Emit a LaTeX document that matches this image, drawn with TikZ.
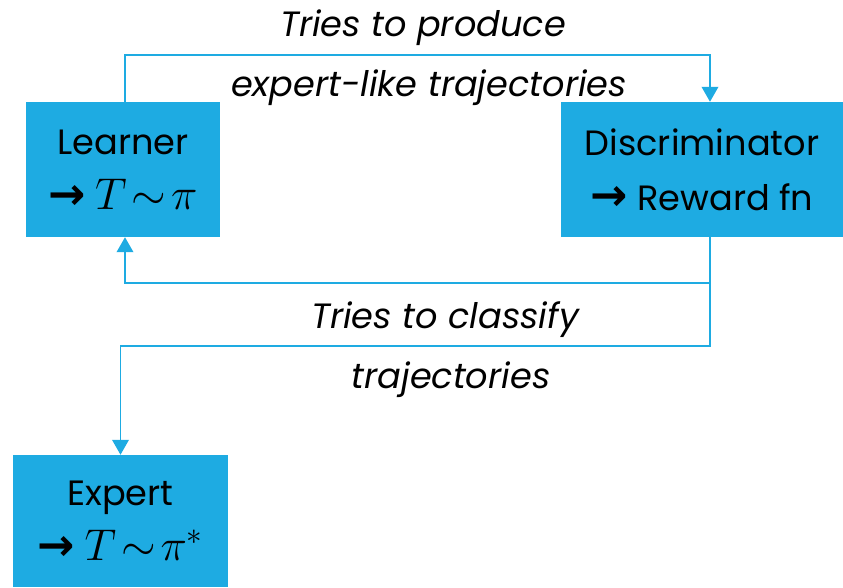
\RequirePackage{fix-cm}
\documentclass[tikz,border=0pt]{standalone}
\usepackage{fontspec}
\setmainfont{Poppins}
\newfontfamily\arrowfont{DejaVu Sans Bold}
\usepackage{xcolor}
\usetikzlibrary{arrows.meta, positioning, calc}

\definecolor{boxblue}{RGB}{30,171,226}
\newcommand{\tofn}{{\arrowfont\fontsize{38}{40}\selectfont\char"2192}}
\newcommand{\bigmath}[1]{{\fontsize{38}{40}\selectfont$#1$}}

\begin{document}
\begin{tikzpicture}[
    x=0.03cm, y=-0.03cm,
    every node/.style={color=black, font=\fontsize{30}{47}\selectfont},
    box/.style={rectangle, fill=boxblue, align=center, inner sep=2pt},
    lbl/.style={font=\fontsize{30}{36}\selectfont\itshape},
    arrow/.style={-{Triangle[length=0.45cm, width=0.5cm]}, draw=boxblue, line width=1.4pt},
    >={Triangle[length=0.45cm, width=0.5cm]}
]
\useasboundingbox (0,0) rectangle (843,587);

% --- Boxes ---
\node[box, minimum width=5.82cm, minimum height=4.05cm] (learner) at (123,169.5)
    {Learner\\\tofn\ \bigmath{T\!\sim\!\pi}};
\node[box, minimum width=8.46cm, minimum height=4.05cm] (disc) at (702,169.5)
    {Discriminator\\\tofn\ Reward fn};
\node[box, minimum width=6.45cm, minimum height=3.96cm] (expert) at (120.5,521)
    {Expert\\\tofn\ \bigmath{T\!\sim\!\pi^*}};

% --- Labels ---
\node[lbl] (prod1) at (423,28) {Tries to produce};
\node[lbl] (prod2) at (429,88) {expert-like trajectories};
\node[lbl] (cls1) at (445,320) {Tries to classify};
\node[lbl] (cls2) at (451,380) {trajectories};

% --- Connectors ---
\coordinate (discS) at ([xshift=0.24cm] disc.south);
\coordinate (discN) at ([xshift=0.24cm] disc.north);
\draw[arrow] ([xshift=0.06cm] learner.north) -- ++(0,-47) -| (discN);
\draw[arrow] (discS) -- ++(0,46) -| ([xshift=0.06cm] learner.south);
\draw[arrow] (discS) -- ++(0,109) -| (expert.north);

\end{tikzpicture}
\end{document}
